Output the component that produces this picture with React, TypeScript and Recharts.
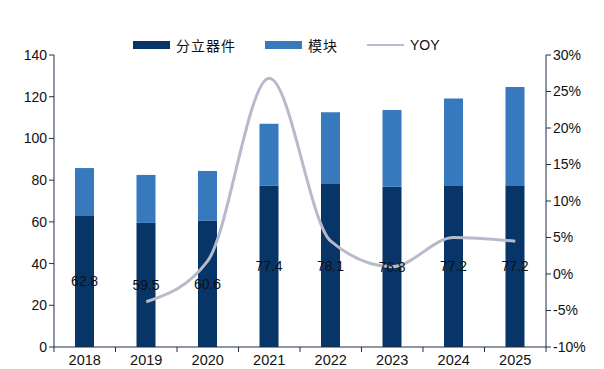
import { Bar, ComposedChart, LabelList, Legend, Line, XAxis, YAxis } from "recharts";
import * as React from "react";

const years = ["2018", "2019", "2020", "2021", "2022", "2023", "2024", "2025"];
const discrete = [62.8, 59.5, 60.6, 77.4, 78.1, 76.8, 77.2, 77.2];
const modules = [23.0, 23.0, 23.8, 29.6, 34.4, 36.8, 42.0, 47.4];
const yoy: (number | null)[] = [null, -3.8, 1.8, 26.8, 4.5, 1.0, 5.0, 4.5];

const leftTicks = [0, 20, 40, 60, 80, 100, 120, 140];
const rightTicks = [-10, -5, 0, 5, 10, 15, 20, 25, 30];

const DARK = "#083567";
const LIGHT = "#3779bd";
const LINE = "#b6bacb";
const AXIS = "#1d2f46";
const FONT = "'Liberation Sans', Arial, sans-serif";
const HALF_BAND = 492 / 8 / 2;

const data = years.map((y, i) => ({
  name: y,
  discrete: discrete[i],
  modules: modules[i],
  yoy: yoy[i],
}));

const legendItems = [
  { label: "分立器件", color: DARK, kind: "rect" },
  { label: "模块", color: LIGHT, kind: "rect" },
  { label: "YOY", color: LINE, kind: "line" },
];

const renderLegend = () => (
  <div style={{ display: "flex", justifyContent: "flex-start", paddingLeft: 133, alignItems: "center", height: 18 }}>
    {legendItems.map((it, i) => (
      <div key={i} style={{ display: "flex", alignItems: "center", marginRight: 29 }}>
        <span
          style={{
            display: "inline-block",
            width: 37,
            height: it.kind === "rect" ? 8 : 2,
            background: it.color,
            marginRight: 6,
          }}
        />
        <span
          style={{
            fontFamily: it.kind === "line" ? FONT : "'Noto Sans CJK SC', sans-serif",
            fontSize: 14,
            color: "#111",
            letterSpacing: it.kind === "line" ? 0 : 1,
          }}
        >
          {it.label}
        </span>
      </div>
    ))}
  </div>
);

// year label plus a tick mark on the boundary between categories
const YearTick = (props: any) => {
  const { x, y, payload, index, visibleTicksCount } = props;
  const top = y - 5;
  return (
    <g>
      <line x1={x - HALF_BAND} x2={x - HALF_BAND} y1={top} y2={top + 5} stroke={AXIS} />
      {index === visibleTicksCount - 1 && (
        <line x1={x + HALF_BAND} x2={x + HALF_BAND} y1={top} y2={top + 5} stroke={AXIS} />
      )}
      <text x={x} y={top + 18} textAnchor="middle" fill="#111" fontSize={14.5} fontFamily={FONT}>
        {payload.value}
      </text>
    </g>
  );
};

export default function App() {
  return (
    <div style={{ position: "absolute", left: 0, top: 0, background: "#fff" }}>
      <ComposedChart
        width={604}
        height={369}
        data={data}
        margin={{ top: 55, right: 0, bottom: 0, left: 0 }}
        barSize={19}
      >
        <Legend
          verticalAlign="middle"
          layout="horizontal"
          content={renderLegend}
          wrapperStyle={{ top: 36, left: 0, width: 604 }}
        />
        <XAxis
          dataKey="name"
          height={22}
          tick={<YearTick />}
          tickLine={false}
          axisLine={{ stroke: AXIS }}
          tickSize={5}
          tickMargin={0}
          interval={0}
        />
        <YAxis
          yAxisId="left"
          width={54}
          domain={[0, 140]}
          ticks={leftTicks}
          tick={{ fill: "#111", fontSize: 14, fontFamily: FONT }}
          axisLine={{ stroke: AXIS }}
          tickLine={{ stroke: AXIS }}
          tickSize={5}
          tickMargin={2}
        />
        <YAxis
          yAxisId="right"
          orientation="right"
          width={58}
          domain={[-10, 30]}
          ticks={rightTicks}
          tickFormatter={(v) => `${v}%`}
          tick={{ fill: "#111", fontSize: 14, fontFamily: FONT }}
          axisLine={{ stroke: AXIS }}
          tickLine={{ stroke: AXIS }}
          tickSize={5}
          tickMargin={2}
        />
        <Bar yAxisId="left" dataKey="discrete" stackId="a" fill={DARK} isAnimationActive={false}>
          <LabelList
            dataKey="discrete"
            position="center"
            fill="#111"
            fontSize={14}
            fontFamily={FONT}
          />
        </Bar>
        <Bar yAxisId="left" dataKey="modules" stackId="a" fill={LIGHT} isAnimationActive={false} />
        <Line
          yAxisId="right"
          dataKey="yoy"
          type="monotone"
          stroke={LINE}
          strokeWidth={3}
          dot={false}
          activeDot={false}
          connectNulls={false}
          isAnimationActive={false}
        />
      </ComposedChart>
    </div>
  );
}
